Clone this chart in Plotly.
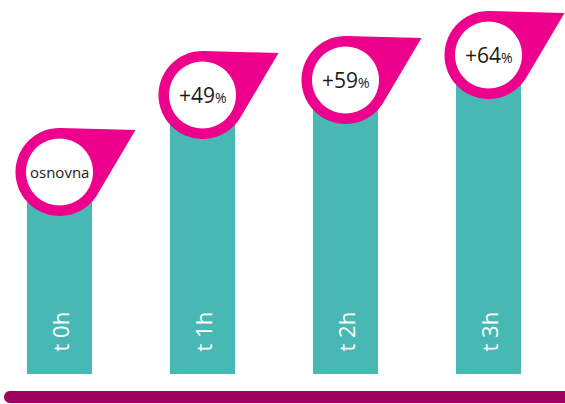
import numpy as np
import plotly.graph_objects as go

# ---- data ----
categories = ["t 0h", "t 1h", "t 2h", "t 3h"]
bar_heights = [202, 279, 294, 319]          # relative bar heights
pin_numbers = ["osnovna", "+49", "+59", "+64"]
pin_suffix = ["", "%", "%", "%"]

TEAL = "#48B8B4"
PINK = "#EC008C"
PURPLE = "#9E005D"
FONT = "Open Sans"

x_pos = list(range(len(categories)))

fig = go.Figure()
fig.add_trace(go.Bar(
    x=x_pos, y=bar_heights, width=0.455,
    marker=dict(color=TEAL, line=dict(width=0)),
    hoverinfo="skip", showlegend=False,
))

# ---- pin marker geometry (pixel offsets relative to anchor, y up) ----
R_OUT, R_IN = 44.0, 33.5
TIP = np.array([76.0, 42.0])

def teardrop_path():
    d = np.hypot(*TIP)
    a_tip = np.arctan2(TIP[1], TIP[0])
    off = np.arccos(R_OUT / d)
    a_low = a_tip - off
    a_high = a_tip + off
    pts = [(R_OUT * np.cos(a_high), R_OUT * np.sin(a_high)), (TIP[0], TIP[1])]
    angs = np.linspace(a_low, a_high - 2 * np.pi, 80)
    pts += [(R_OUT * np.cos(a), R_OUT * np.sin(a)) for a in angs]
    return "M " + " L ".join(f"{x:.2f},{y:.2f}" for x, y in pts) + " Z"

def circle_path(r, cx=0.0, cy=0.0, n=72):
    angs = np.linspace(0, 2 * np.pi, n, endpoint=False)
    return "M " + " L ".join(f"{cx + r*np.cos(a):.2f},{cy + r*np.sin(a):.2f}" for a in angs) + " Z"

drop = teardrop_path()
inner = circle_path(R_IN)

shapes = []
annotations = []
for xi, h, num, suf, cat in zip(x_pos, bar_heights, pin_numbers, pin_suffix, categories):
    shapes.append(dict(type="path", xref="x", yref="y", xsizemode="pixel", ysizemode="pixel",
                       xanchor=xi, yanchor=h, path=drop, fillcolor=PINK,
                       line=dict(width=0), layer="above"))
    shapes.append(dict(type="path", xref="x", yref="y", xsizemode="pixel", ysizemode="pixel",
                       xanchor=xi, yanchor=h, path=inner, fillcolor="white",
                       line=dict(width=0), layer="above"))
    if suf:
        txt = f"{num}<span style='font-size:14px'>{suf}</span>"
        size = 21
    else:
        txt = num
        size = 15
    annotations.append(dict(x=xi, y=h, xref="x", yref="y", text=txt, showarrow=False,
                            font=dict(family=FONT, size=size, color="#1a1a1a"),
                            xanchor="center", yanchor="middle"))
    annotations.append(dict(x=xi, y=42, xref="x", yref="y", text=cat, showarrow=False,
                            textangle=-90, xshift=0,
                            font=dict(family=FONT, size=22, color="white"),
                            xanchor="center", yanchor="middle"))

# bottom purple bar with rounded left end
line_pts = [(570, 13), (10, 13)]
angs = np.linspace(np.pi / 2, 3 * np.pi / 2, 30)
line_pts += [(10 + 6 * np.cos(a), 7 + 6 * np.sin(a)) for a in angs]
line_pts += [(570, 1)]
line_path = "M " + " L ".join(f"{x:.2f},{y:.2f}" for x, y in line_pts) + " Z"
shapes.append(dict(type="path", xref="paper", yref="paper", xsizemode="pixel", ysizemode="pixel",
                   xanchor=0, yanchor=0, path=line_path, fillcolor=PURPLE,
                   line=dict(width=0), layer="above"))

fig.update_layout(
    width=565, height=404,
    margin=dict(l=0, r=0, t=0, b=0),
    paper_bgcolor="white", plot_bgcolor="white",
    xaxis=dict(range=[-59.5 / 143, (565 - 59.5) / 143], visible=False, fixedrange=True),
    yaxis=dict(range=[-30, 374], visible=False, fixedrange=True),
    shapes=shapes, annotations=annotations,
    showlegend=False,
)

fig.write_html("out.html", config={"displayModeBar": False},
               post_script="document.body.style.margin='0px';document.body.style.overflow='hidden';")
